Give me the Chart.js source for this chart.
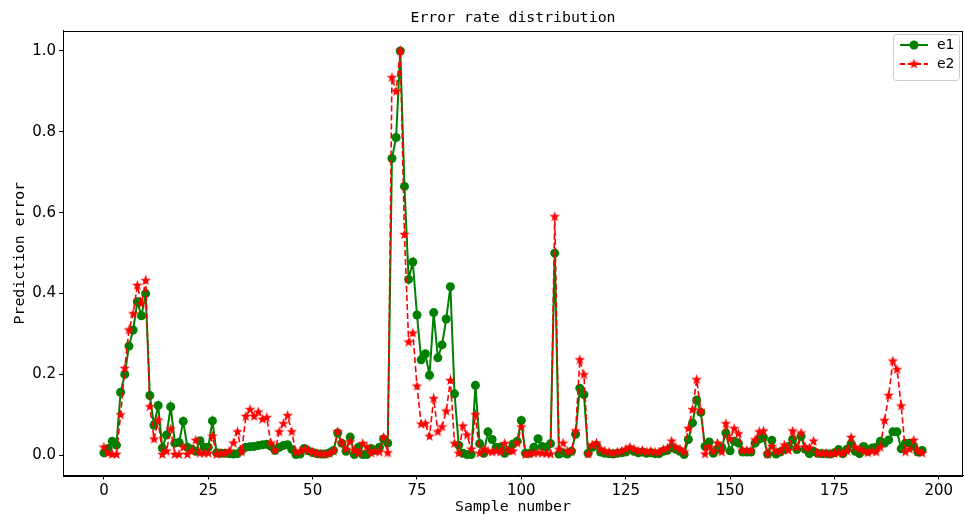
<!DOCTYPE html>
<html>
<head>
<meta charset="utf-8">
<script src="https://cdn.jsdelivr.net/npm/chart.js@4/dist/chart.umd.min.js"></script>
<style>
html,body{margin:0;padding:0;background:#fff;}
canvas{display:block;}
</style>
</head>
<body>
<canvas id="c" width="964" height="515"></canvas>
<script>
const titleText = "Error rate distribution";
const xTitle = "Sample number";
const yTitle = "Prediction error";
const seriesNames = ["e1", "e2"];
const xTicks = [0, 25, 50, 75, 100, 125, 150, 175, 200];
const yTicks = [0.0, 0.2, 0.4, 0.6, 0.8, 1.0];

const e1 = [0.006,0.017,0.035,0.025,0.156,0.2,0.27,0.31,0.38,0.345,
0.4,0.148,0.074,0.123,0.018,0.05,0.12,0.03,0.032,0.084,
0.02,0.015,0.01,0.036,0.02,0.02,0.085,0.006,0.005,0.005,
0.004,0.003,0.004,0.012,0.02,0.021,0.022,0.024,0.026,0.027,
0.022,0.012,0.02,0.024,0.026,0.015,0.002,0.003,0.017,0.011,
0.007,0.004,0.003,0.003,0.006,0.012,0.055,0.03,0.01,0.045,
0.002,0.02,0.002,0.002,0.017,0.012,0.02,0.04,0.03,0.734,
0.786,1.0,0.665,0.435,0.478,0.347,0.236,0.251,0.198,0.353,
0.241,0.273,0.337,0.417,0.152,0.025,0.005,0.002,0.002,0.173,
0.029,0.005,0.058,0.039,0.02,0.02,0.005,0.012,0.028,0.035,
0.086,0.005,0.005,0.02,0.041,0.022,0.02,0.029,0.5,0.003,
0.006,0.003,0.01,0.052,0.166,0.15,0.005,0.02,0.025,0.008,
0.005,0.004,0.003,0.005,0.006,0.008,0.014,0.01,0.006,0.008,
0.005,0.006,0.004,0.004,0.01,0.012,0.019,0.015,0.01,0.002,
0.039,0.08,0.137,0.106,0.022,0.033,0.005,0.015,0.02,0.055,
0.011,0.035,0.03,0.008,0.008,0.008,0.03,0.04,0.044,0.003,
0.037,0.003,0.008,0.014,0.022,0.039,0.014,0.047,0.015,0.004,
0.01,0.005,0.004,0.004,0.003,0.006,0.014,0.004,0.015,0.029,
0.01,0.004,0.022,0.01,0.018,0.02,0.035,0.03,0.038,0.058,
0.058,0.016,0.03,0.03,0.022,0.008,0.012];

const e2 = [0.02,0.005,0.002,0.002,0.1,0.215,0.31,0.35,0.42,0.375,
0.432,0.12,0.04,0.087,0.002,0.01,0.065,0.002,0.002,0.02,
0.002,0.01,0.037,0.005,0.005,0.005,0.047,0.002,0.005,0.005,
0.01,0.03,0.058,0.008,0.096,0.113,0.096,0.107,0.089,0.093,
0.03,0.012,0.058,0.078,0.098,0.058,0.008,0.01,0.015,0.012,
0.008,0.005,0.003,0.003,0.005,0.01,0.058,0.03,0.015,0.033,
0.012,0.005,0.029,0.02,0.005,0.01,0.008,0.044,0.006,0.934,
0.9,1.0,0.546,0.28,0.302,0.171,0.077,0.078,0.047,0.14,
0.058,0.07,0.109,0.185,0.029,0.005,0.072,0.05,0.015,0.1,
0.005,0.015,0.01,0.008,0.01,0.008,0.029,0.012,0.01,0.03,
0.07,0.002,0.004,0.005,0.006,0.005,0.004,0.003,0.59,0.015,
0.03,0.01,0.01,0.06,0.236,0.199,0.003,0.025,0.03,0.015,
0.01,0.008,0.005,0.008,0.01,0.015,0.02,0.015,0.01,0.012,
0.008,0.01,0.008,0.008,0.014,0.018,0.035,0.02,0.015,0.008,
0.066,0.113,0.187,0.11,0.003,0.02,0.01,0.03,0.008,0.078,
0.04,0.066,0.053,0.012,0.012,0.012,0.038,0.058,0.06,0.003,
0.022,0.01,0.01,0.025,0.012,0.06,0.02,0.055,0.02,0.018,
0.035,0.005,0.005,0.004,0.003,0.005,0.006,0.005,0.01,0.044,
0.02,0.015,0.01,0.006,0.01,0.008,0.02,0.086,0.148,0.233,
0.212,0.122,0.008,0.015,0.037,0.01,0.005];

const samples = e1.map((_, i) => i);

function makeStar(size, color) {
  const c = document.createElement('canvas');
  c.width = size; c.height = size;
  const g = c.getContext('2d');
  const cx = size / 2, cy = size / 2, R = size / 2, r = R * 0.42;
  g.beginPath();
  for (let k = 0; k < 10; k++) {
    const rad = (k % 2 === 0) ? R : r;
    const a = -Math.PI / 2 + k * Math.PI / 5;
    const px = cx + rad * Math.cos(a), py = cy + rad * Math.sin(a);
    if (k === 0) g.moveTo(px, py); else g.lineTo(px, py);
  }
  g.closePath();
  g.fillStyle = color;
  g.fill();
  return c;
}
const starImg = makeStar(11, '#ff0000');

const frameAndLegend = {
  id: 'frameAndLegend',
  afterDraw(chart) {
    const ctx = chart.ctx, a = chart.chartArea;
    ctx.save();
    ctx.strokeStyle = '#000';
    ctx.lineWidth = 1;
    ctx.strokeRect(Math.round(a.left) + 0.5, Math.round(a.top) + 0.5,
                   Math.round(a.right - a.left) - 1, Math.round(a.bottom - a.top));
    // legend box
    const bx = 893, by = 34, bw = 66, bh = 46;
    ctx.fillStyle = 'rgba(255,255,255,0.8)';
    ctx.strokeStyle = '#cccccc';
    ctx.beginPath();
    ctx.roundRect(bx + 0.5, by + 0.5, bw, bh, 3);
    ctx.fill(); ctx.stroke();
    const ds = chart.data.datasets;
    const rows = [45, 64];
    ctx.strokeStyle = '#008000'; ctx.lineWidth = 2;
    ctx.beginPath(); ctx.moveTo(900, rows[0]); ctx.lineTo(928, rows[0]); ctx.stroke();
    ctx.fillStyle = '#008000';
    ctx.beginPath(); ctx.arc(914, rows[0], 4.5, 0, Math.PI * 2); ctx.fill();
    ctx.strokeStyle = '#ff0000'; ctx.setLineDash([5, 3]);
    ctx.beginPath(); ctx.moveTo(900, rows[1]); ctx.lineTo(928, rows[1]); ctx.stroke();
    ctx.setLineDash([]);
    ctx.drawImage(starImg, 914 - 5.5, rows[1] - 5.5);
    ctx.fillStyle = '#000';
    ctx.font = '14px "DejaVu Sans"';
    ctx.textBaseline = 'middle';
    ctx.textAlign = 'left';
    ctx.fillText(ds[0].label, 937, rows[0]);
    ctx.fillText(ds[1].label, 937, rows[1]);
    ctx.restore();
  }
};

new Chart(document.getElementById('c'), {
  type: 'line',
  data: {
    datasets: [
      {
        label: seriesNames[0],
        data: samples.map((s, i) => ({x: s, y: e1[i]})),
        borderColor: '#008000',
        backgroundColor: '#008000',
        borderWidth: 2,
        pointRadius: 4.5,
        pointHoverRadius: 4.5,
        pointBorderWidth: 0,
        pointStyle: 'circle',
        tension: 0,
        order: 1
      },
      {
        label: seriesNames[1],
        data: samples.map((s, i) => ({x: s, y: e2[i]})),
        borderColor: '#ff0000',
        backgroundColor: '#ff0000',
        borderWidth: 1.6,
        borderDash: [6, 3],
        pointStyle: starImg,
        pointRadius: 5,
        tension: 0,
        order: 0
      }
    ]
  },
  options: {
    responsive: false,
    devicePixelRatio: 1,
    animation: false,
    layout: {autoPadding: false, padding: {left: 0, right: 1, top: 0, bottom: 0}},
    plugins: {
      legend: {display: false},
      tooltip: {enabled: false},
      title: {
        display: true,
        fullSize: false,
        text: titleText,
        color: '#000',
        font: {family: '"DejaVu Sans Mono"', size: 14.8, weight: 'normal', lineHeight: 1.2},
        padding: {top: 9, bottom: 4}
      }
    },
    scales: {
      x: {
        type: 'linear',
        min: -9.8,
        max: 205.8,
        afterBuildTicks(scale) { scale.ticks = xTicks.map(v => ({value: v})); },
        afterFit(scale) { scale.height = 39.5; scale.paddingLeft = 0; scale.paddingRight = 0; },
        ticks: {
          color: '#000',
          font: {family: '"DejaVu Sans"', size: 15},
          padding: 3,
          maxRotation: 0,
          callback: v => String(v)
        },
        grid: {display: true, drawOnChartArea: false, drawTicks: true, tickLength: 4, color: '#000'},
        border: {display: true, color: '#000'},
        title: {
          display: true,
          text: xTitle,
          color: '#000',
          font: {family: '"DejaVu Sans Mono"', size: 14.8, lineHeight: 1},
          padding: {top: 0, bottom: 0}
        }
      },
      y: {
        type: 'linear',
        min: -0.05,
        max: 1.05,
        afterBuildTicks(scale) { scale.ticks = yTicks.map(v => ({value: v})); },
        afterFit(scale) { scale.width = 63; },
        ticks: {
          color: '#000',
          font: {family: '"DejaVu Sans"', size: 15},
          padding: 3,
          callback: v => Number(v).toFixed(1)
        },
        grid: {display: true, drawOnChartArea: false, drawTicks: true, tickLength: 4, color: '#000'},
        border: {display: true, color: '#000'},
        title: {
          display: true,
          text: yTitle,
          color: '#000',
          font: {family: '"DejaVu Sans Mono"', size: 14.8, lineHeight: 1},
          padding: {top: 12.7, bottom: 0}
        }
      }
    }
  },
  plugins: [frameAndLegend]
});
</script>
</body>
</html>
